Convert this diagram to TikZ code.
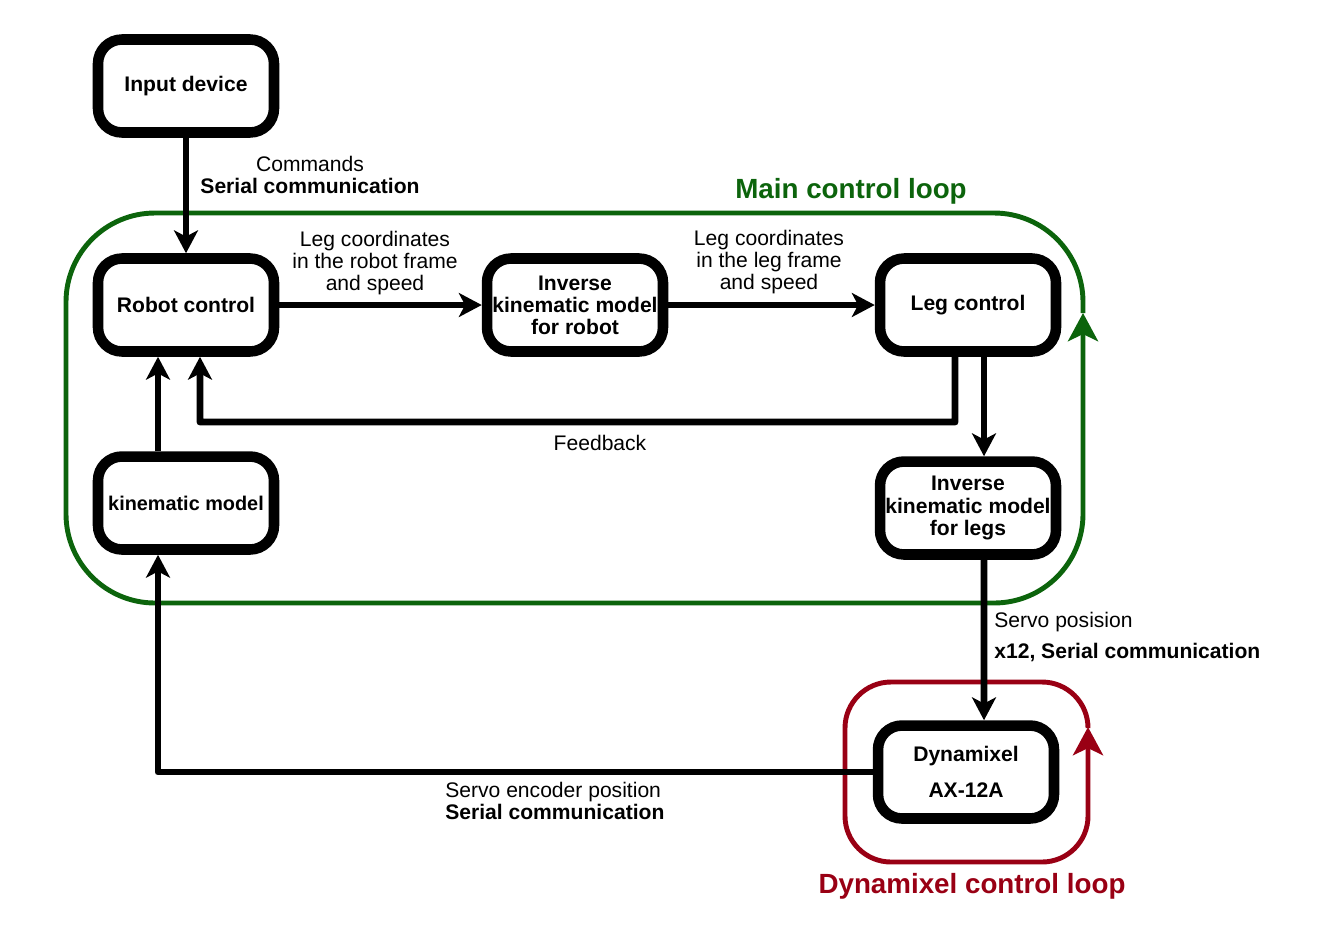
\documentclass[tikz,border=0pt]{standalone}
\usepackage{fontspec}
\setmainfont{Liberation Sans}
\usepackage{tikz}
\usetikzlibrary{calc,positioning}
\usetikzlibrary{arrows.meta}
\definecolor{loopgreen}{RGB}{12,100,12}
\definecolor{loopred}{RGB}{153,0,20}

\begin{document}
\begin{tikzpicture}[x=0.02cm,y=-0.02cm]
    \tikzstyle{bnode} = [draw, line width=6pt, rounded corners=0.48cm, minimum width=3.52cm, minimum height=1.86cm, inner sep=0pt, align=center, font=\bfseries\fontsize{12}{12.6}\selectfont]
    \tikzstyle{lbl} = [inner sep=0pt, align=center, font=\fontsize{12}{12.4}\selectfont]
    \tikzstyle{arr} = [line width=3.9pt, -{Stealth[length=13pt,width=13.6pt,inset=3.5pt]}]
    \tikzstyle{loop} = [line width=2.8pt, -{Stealth[length=16pt,width=17pt,inset=4pt]}]

    \useasboundingbox (0,0) rectangle (1321,931);

    \node[bnode] (input) at (186,86) {Input device};
    \node[bnode] (robot) at (186,305) {Robot control};
    \node[bnode] (ikrobot) at (575,305) {Inverse\\kinematic model\\for robot};
    \node[bnode] (leg) at (968,305) {Leg control};
    \node[bnode, font=\bfseries\fontsize{11.3}{12}\selectfont] (kin) at (186,503) {kinematic model};
    \node[bnode] (iklegs) at (968,508) {Inverse\\kinematic model\\for legs};
    \node[bnode] (dxl) at (966,772) {Dynamixel\\[8pt]AX-12A};

    % loops
    \draw[loop, color=loopgreen, rounded corners=1.78cm] (1083,313) -- (1083,213) -- (66,213) -- (66,603) -- (1083,603) -- (1083,313);
    \draw[loop, color=loopred, rounded corners=0.92cm] (1088,727) -- (1088,682) -- (845,682) -- (845,862) -- (1088,862) -- (1088,727);
    \node[font=\bfseries\fontsize{15.8}{16}\selectfont, text=loopgreen] (mainlbl) at (851,191) {Main control loop};
    \node[font=\bfseries\fontsize{15.8}{16}\selectfont, text=loopred] (dxllbl) at (972,886) {Dynamixel control loop};

    \draw[arr] (input) -- (robot);
    \node[lbl] (cmdlbl) at (310,175) {Commands\\\textbf{Serial communication}};

    \draw[arr] (robot) -- (ikrobot);
    \node[lbl] (robotframe) at (375,263) {Leg coordinates\\in the robot frame\\and speed};
    \draw[arr] (ikrobot) -- (leg);
    \node[lbl] (legframe) at (769,262) {Leg coordinates\\in the leg frame\\and speed};

    \draw[arr, line join=round] ([xshift=-0.26cm]leg.south) |- (200,422) -- ([xshift=0.28cm]robot.south);
    \node[lbl] (fblbl) at (600,443) {Feedback};
    \draw[arr] ([xshift=0.32cm]leg.south) -- ([xshift=0.32cm]iklegs.north);
    \draw[arr] ([xshift=-0.56cm]kin.north) -- ([xshift=-0.56cm]robot.south);

    \draw[arr] ([xshift=0.32cm]iklegs.south) -- ([xshift=0.36cm]dxl.north);
    \node[lbl, anchor=west, align=left] (servolbl) at (994,637) {Servo posision\\[5pt]\textbf{x12, Serial communication}};

    \draw[arr, line join=round] (dxl.west) -| ([xshift=-0.56cm]kin.south);
    \node[lbl, anchor=west, align=left] (enclbl) at (445,801) {Servo encoder position\\\textbf{Serial communication}};
\end{tikzpicture}
\end{document}
